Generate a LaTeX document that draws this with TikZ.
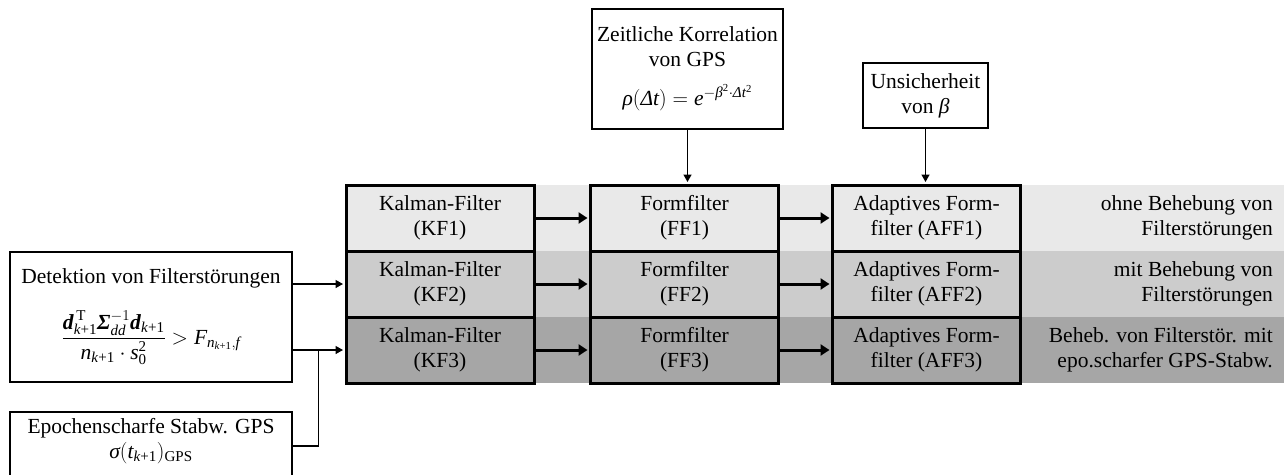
\RequirePackage{fix-cm}
\documentclass[tikz,border=0pt]{standalone}
\usepackage{amsmath}
\usepackage{fontspec}
\setmainfont{Liberation Serif}
\usetikzlibrary{arrows.meta,calc}
\definecolor{bandA}{RGB}{233,233,233}
\definecolor{bandB}{RGB}{204,204,204}
\definecolor{bandC}{RGB}{166,166,166}
\newcommand\tiv[1]{\textit{#1}}
\newcommand\tbi[1]{\textbf{\textit{#1}}}
\newcommand\kpo{\text{\textit{k}+1}}
\newcommand\rtwo[2]{\begin{tabular}{@{}r@{}}#1\\#2\end{tabular}}
\tikzset{
  proc/.style={draw, line width=3pt, minimum width=188pt, minimum height=66pt, inner sep=0pt, align=center},
  info/.style={draw, line width=1.2pt, inner sep=0pt, align=center, fill=white},
  rlabel/.style={anchor=east, inner sep=0pt},
  bigarrow/.style={line width=3pt, shorten >=1.5pt, -{Triangle[length=9pt,width=11pt]}},
  thinarrow/.style={line width=1.4pt, shorten >=1.5pt, -{Triangle[length=7.5pt,width=8pt]}},
  thinline/.style={line width=1.4pt}
}
\begin{document}
\begin{tikzpicture}[x=1pt,y=-1pt,font=\fontsize{21.5}{25}\selectfont]
\clip (0,0) rectangle (1284,474);
\fill[white] (0,0) rectangle (1284,474);
% bands
\fill[bandA] (346,185) rectangle (1284,251);
\fill[bandB] (346,251) rectangle (1284,317);
\fill[bandC] (346,317) rectangle (1284,383);
% process boxes
\node[proc, fill=bandA] (kf1) at (440,218) {Kalman-Filter\\(KF1)};
\node[proc, fill=bandA] (ff1) at (684.5,218) {Formfilter\\(FF1)};
\node[proc, fill=bandA] (aff1) at (926.5,218) {Adaptives Form-\\filter (AFF1)};
\node[proc, fill=bandB] (kf2) at (440,284) {Kalman-Filter\\(KF2)};
\node[proc, fill=bandB] (ff2) at (684.5,284) {Formfilter\\(FF2)};
\node[proc, fill=bandB] (aff2) at (926.5,284) {Adaptives Form-\\filter (AFF2)};
\node[proc, fill=bandC] (kf3) at (440,350) {Kalman-Filter\\(KF3)};
\node[proc, fill=bandC] (ff3) at (684.5,350) {Formfilter\\(FF3)};
\node[proc, fill=bandC] (aff3) at (926.5,350) {Adaptives Form-\\filter (AFF3)};
% right labels
\node[rlabel] (r1) at (1273,218) {\rtwo{ohne Behebung von}{Filterstörungen}};
\node[rlabel] (r2) at (1273,284) {\rtwo{mit Behebung von}{Filterstörungen}};
\node[rlabel] (r3) at (1273,350) {\rtwo{Beheb. von Filterstör. mit}{epo.scharfer GPS-Stabw.}};
% top boxes
\node[info, minimum width=191pt, minimum height=120pt] (zeit) at (687.5,69)
  {Zeitliche Korrelation\\von GPS\\[14pt]$\tiv{ρ}(\tiv{Δt}) = \tiv{e}^{-\tiv{β}^{\text{2}}\cdot\tiv{Δt}^{\text{2}}}$};
\node[info, minimum width=125pt, minimum height=65pt] (uns) at (925.5,95.5)
  {Unsicherheit\\von \tiv{β}};
% left boxes
\node[info, minimum width=282pt, minimum height=130pt] (det) at (151,317)
  {Detektion von Filterstörungen\\[21pt]
   $\dfrac{\tbi{d}^{\,\text{T}}_{\kpo}\tbi{Σ}^{-1}_{\tiv{dd}}\tbi{d}_{\kpo}}{\tiv{n}_{\kpo}\cdot \tiv{s}_{\text{0}}^{\text{2}}} > \tiv{F}_{\tiv{n}_{\kpo},\tiv{f}}$};
\node[info, minimum width=282pt, minimum height=68pt] (epo) at (151,446) {};
\node[align=center, inner sep=0pt] (epot) at (151,441)
  {Epochenscharfe Stabw. GPS\\$\tiv{σ}(\tiv{t}_{\kpo})_{\text{GPS}}$};
% connectors
\foreach \a/\b in {kf1/ff1,ff1/aff1,kf2/ff2,ff2/aff2,kf3/ff3,ff3/aff3}
  \draw[bigarrow] (\a.east) -- (\b.west);
\draw[thinarrow] (zeit.south) -- (zeit.south |- ff1.north);
\draw[thinarrow] (uns.south) -- (uns.south |- aff1.north);
\draw[thinarrow] (det.east |- kf2.west) -- (kf2.west);
\draw[thinarrow] (det.east |- kf3.west) -- (kf3.west);
\coordinate (j) at ($(det.east |- kf3.west)!0.5!(kf3.west)$);
\draw[thinline] (epo.east) -| (j);
\end{tikzpicture}
\end{document}
